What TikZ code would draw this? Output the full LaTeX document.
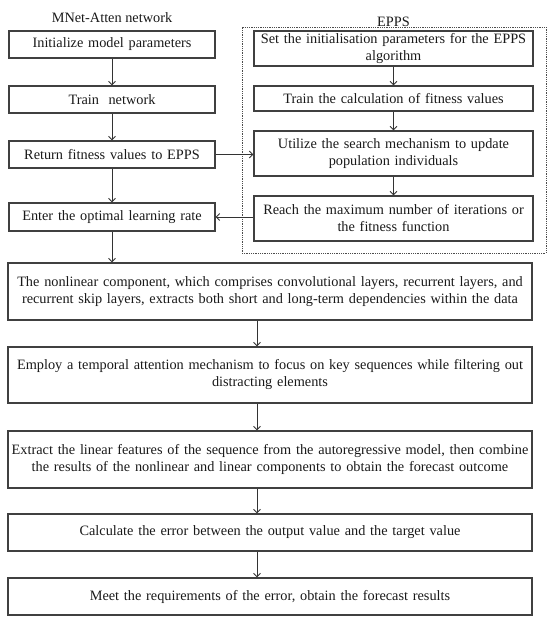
\documentclass[tikz,border=0pt]{standalone}
\usepackage{fontspec}
\setmainfont{Liberation Serif}
\usetikzlibrary{arrows.meta}
\begin{document}
\begin{tikzpicture}[x=1pt,y=-1pt,
  every node/.style={font=\fontsize{14.3}{17}\selectfont, text=black!90},
  lbox/.style={draw=black!75, line width=1.2pt, inner sep=0pt, align=center, minimum width=206pt, text width=204pt},
  ebox/.style={draw=black!75, line width=1.2pt, inner sep=0pt, align=center, minimum width=279pt, text width=277pt},
  bbox/.style={draw=black!75, line width=1.2pt, inner sep=0pt, align=center, minimum width=524pt, text width=522pt},
  arr/.style={draw=black!80, line width=0.9pt, -{Straight Barb[length=3.5pt,width=7pt]}},
  dashbox/.style={draw=black!70, line width=0.8pt, dash pattern=on 1pt off 0.8pt}]
\useasboundingbox (0,0) rectangle (550,628);

% title
\node[anchor=base] (t1) at (112,23) {MNet-Atten network};

% EPPS frame
\node[dashbox, minimum width=304pt, minimum height=226pt, inner sep=0pt] (frame) at (394,140) {};
\node[anchor=base] (t2) at (393.5,27) {EPPS};

% left column
\node[lbox, minimum height=27pt] (L1) at (112,44.5) {Initialize model parameters};
\node[lbox, minimum height=27pt] (L2) at (112,99.5) {Train\ \ network};
\node[lbox, minimum height=27pt] (L3) at (112,154.5) {Return fitness values to EPPS};
\node[lbox, minimum height=28pt] (L4) at (112,217) {Enter the optimal learning rate};

% EPPS column
\node[ebox, minimum height=35pt] (E1) at (393.5,48.5) {Set the initialisation parameters for the EPPS\\algorithm};
\node[ebox, minimum height=25pt] (E2) at (393.5,98.5) {Train the calculation of fitness values};
\node[ebox, minimum height=45pt] (E3) at (393.5,153.5) {Utilize the search mechanism to update\\population individuals};
\node[ebox, minimum height=45pt] (E4) at (393.5,218.5) {Reach the maximum number of iterations or\\the fitness function};

% bottom column
\node[bbox, minimum height=57pt] (B1) at (270,291.5) {The nonlinear component, which comprises convolutional layers, recurrent layers, and\\recurrent skip layers, extracts both short and long-term dependencies within the data};
\node[bbox, minimum height=56pt] (B2) at (270,375) {Employ a temporal attention mechanism to focus on key sequences while filtering out\\distracting elements};
\node[bbox, minimum height=57pt] (B3) at (270,459.5) {Extract the linear features of the sequence from the autoregressive model, then combine\\the results of the nonlinear and linear components to obtain the forecast outcome};
\node[bbox, minimum height=37pt] (B4) at (270,532.5) {Calculate the error between the output value and the target value};
\node[bbox, minimum height=37pt] (B5) at (270,596.5) {Meet the requirements of the error, obtain the forecast results};

\coordinate (ax) at (257,0);

% arrows
\draw[arr] (L1) -- (L2);
\draw[arr] (L2) -- (L3);
\draw[arr] (L3) -- (L4);
\draw[arr] (L4.south) -- (B1.north -| L4.south);
\draw[arr] (E1) -- (E2);
\draw[arr] (E2) -- (E3);
\draw[arr] (E3) -- (E4);
\draw[arr] (L3.east) -- (E3.west |- L3.east);
\draw[arr] (E4.west |- L4.east) -- (L4.east);
\draw[arr] (B1.south -| ax) -- (B2.north -| ax);
\draw[arr] (B2.south -| ax) -- (B3.north -| ax);
\draw[arr] (B3.south -| ax) -- (B4.north -| ax);
\draw[arr] (B4.south -| ax) -- (B5.north -| ax);
\end{tikzpicture}
\end{document}
